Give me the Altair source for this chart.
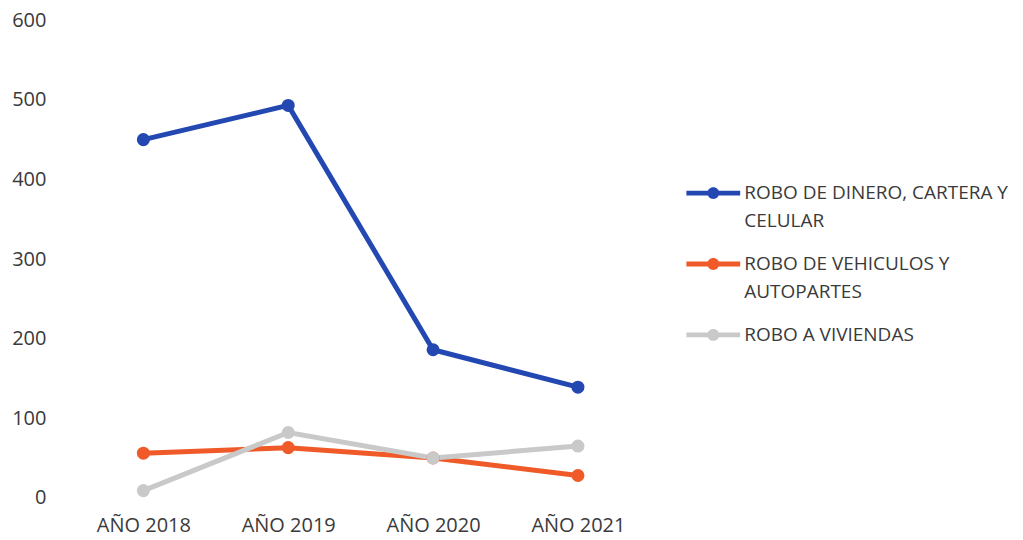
import altair as alt
import pandas as pd

years = ["AÑO 2018", "AÑO 2019", "AÑO 2020", "AÑO 2021"]
series = ["ROBO DE DINERO, CARTERA Y CELULAR", "ROBO DE VEHICULOS Y AUTOPARTES", "ROBO A VIVIENDAS"]
dinero = [450, 493, 186, 139]
vehiculos = [56, 63, 50, 28]
viviendas = [9, 82, 50, 65]
colors = ["#2348B2", "#EF5A28", "#C9C9C9"]

rows = []
for name, vals in zip(series, [dinero, vehiculos, viviendas]):
    for y, v in zip(years, vals):
        rows.append({"year": y, "serie": name, "value": v})
df = pd.DataFrame(rows)

label_expr = (
    "datum.label == 'ROBO DE DINERO, CARTERA Y CELULAR' ? ['ROBO DE DINERO, CARTERA Y', 'CELULAR'] : "
    "datum.label == 'ROBO DE VEHICULOS Y AUTOPARTES' ? ['ROBO DE VEHICULOS Y', 'AUTOPARTES'] : datum.label"
)

sym = "M-1,-0.09L1,-0.09L1,0.09L-1,0.09Z M-0.22,0A0.22,0.22 0 1,1 0.22,0A0.22,0.22 0 1,1 -0.22,0Z"

FONT = "Open Sans"
TXT = "#3a3a3a"

color = alt.Color(
    "serie:N",
    sort=series,
    scale=alt.Scale(domain=series, range=colors),
    legend=alt.Legend(
        title=None,
        orient="none",
        legendX=616,
        legendY=146,
        labelExpr=label_expr,
        symbolType=sym,
        symbolSize=2900,
        symbolStrokeWidth=0,
        labelFont=FONT,
        labelFontSize=19,
        labelColor=TXT,
        labelLimit=400,
        labelOffset=4,
        rowPadding=6,
        labelBaseline="middle",
    ),
)

x = alt.X("year:N", sort=years, title=None,
          scale=alt.Scale(paddingOuter=0.5),
          axis=alt.Axis(labelAngle=0, domain=False, ticks=False, labelPadding=18,
                        labelFont=FONT, labelFontSize=20, labelColor=TXT))
y = alt.Y("value:Q", title=None,
          scale=alt.Scale(domain=[0, 600]),
          axis=alt.Axis(values=[0, 100, 200, 300, 400, 500, 600], domain=False, ticks=False,
                        grid=False, labelPadding=25, labelFont=FONT, labelFontSize=20,
                        labelColor=TXT))

base = alt.Chart(df).encode(x=x, y=y, color=color)
lines = base.mark_line(strokeWidth=5)
points = base.mark_point(filled=True, size=170, opacity=1)

chart = alt.layer(lines, points).properties(
    width=580, height=478,
    autosize="none",
    background="white",
    padding={"left": 63, "top": 12, "right": 365, "bottom": 40},
).configure(style={"guide-label": {"lineHeight": 28}}).configure_view(stroke="transparent", strokeWidth=0)

chart.save("out.html", embed_options={"renderer": "svg", "actions": False})
